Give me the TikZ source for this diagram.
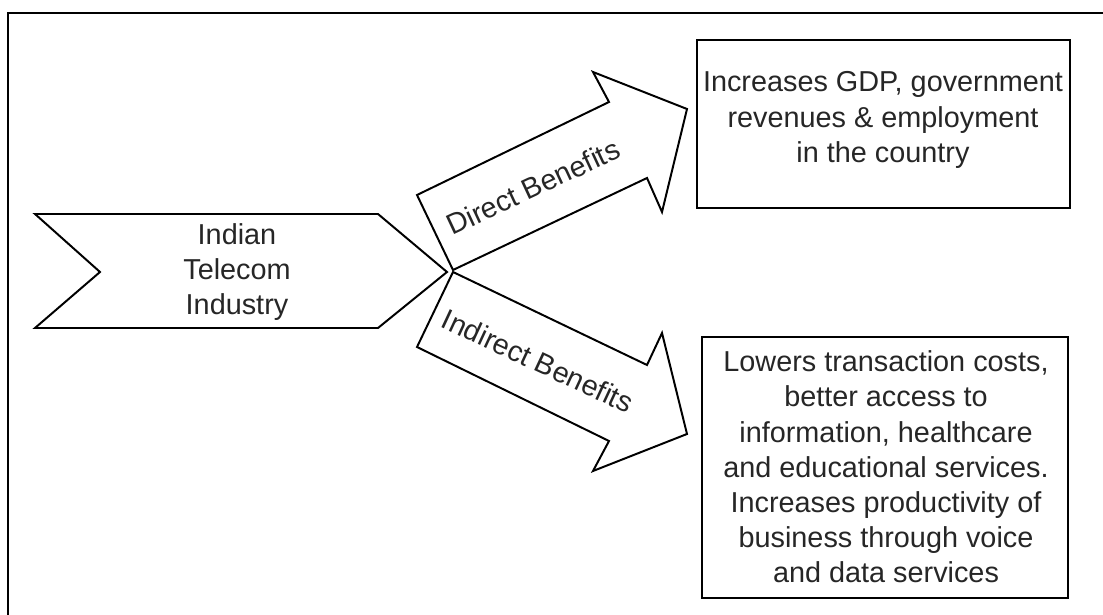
\documentclass[tikz,border=0pt]{standalone}
\usepackage{fontspec}
\setmainfont{Liberation Sans}

\begin{document}
\begin{tikzpicture}[x=0.025cm,y=-0.025cm,
	outline/.style={draw=black,line width=1.4pt,line join=miter},
	bodytext/.style={font=\fontsize{20.5}{25}\selectfont,text=black!85,align=center,inner sep=0pt}]
		\useasboundingbox (0,0) rectangle (1103,615);
		%%%%% FRAME %%%%%
		\draw[line width=0.8pt] (8,615) -- (8,13) -- (1103,13);
		
		%%%%% INDUSTRY CHEVRON %%%%%
		\draw[outline] (35,214) -- (378,214) -- (447,272) -- (378,328) -- (35,328) -- (100,272) -- cycle;
		\node[bodytext] (industry) at (237,272) {Indian\\Telecom\\Industry};
		
		%%%%% DIRECT BENEFITS ARROW %%%%%
		\draw[outline] (453,270) -- (417,195) -- (609,102) -- (593,72) -- (687,109) -- (662,212) -- (647,178) -- cycle;
		\node[bodytext,rotate=25] (direct) at (533,187) {Direct Benefits};
		
		%%%%% INDIRECT BENEFITS ARROW %%%%%
		\draw[outline] (453,272) -- (647,365) -- (662,333) -- (687,434) -- (593,471) -- (609,441) -- (417,347) -- cycle;
		\node[bodytext,rotate=-25] (indirect) at (538,361) {Indirect Benefits};
		
		%%%%% BOXES %%%%%
		\draw[outline] (697,40) rectangle (1070,208);
		\node[bodytext] (gdp) at (883,120) {Increases GDP, government\\revenues \& employment\\in the country};
		
		\draw[outline] (702,337) rectangle (1068,598);
		\node[bodytext] (lowers) at (886,467) {Lowers transaction costs,\\better access to\\information, healthcare\\and educational services.\\Increases productivity of\\business through voice\\and data services};
		%%%%% END %%%%%
	\end{tikzpicture}
\end{document}
